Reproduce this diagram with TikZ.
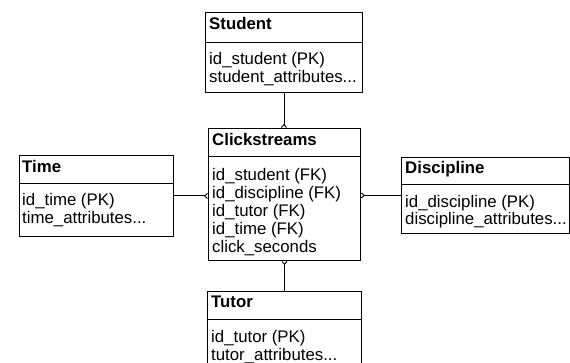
\documentclass[tikz,border=0pt]{standalone}
\usepackage{fontspec}
\setmainfont{Liberation Sans}
\usetikzlibrary{arrows.meta,calc}
\begin{document}
\begin{tikzpicture}[x=1pt,y=-1pt,
  tbl/.style={draw=black, fill=white, line width=0.9pt, inner sep=0pt, anchor=north west},
  hdr/.style={line width=0.9pt},
  ttl/.style={anchor=base west, inner sep=0pt, font=\fontsize{16.8}{18}\selectfont\bfseries},
  att/.style={anchor=base west, inner sep=0pt, font=\fontsize{16.8}{18}\selectfont},
  rel/.style={line width=0.9pt, -{Straight Barb[reversed,length=3pt,width=5pt]}}]
\clip (0,0) rectangle (570,363);
\fill[white] (0,0) rectangle (570,363);
% Student
\node[tbl, minimum width=157pt, minimum height=80pt] (student) at (205,12) {};
\draw[hdr] ($(student.north west)+(0,30)$) -- ($(student.north east)+(0,30)$);
\node[ttl] (studentT) at (209,30) {Student};
\node[att] (studentA1) at (209,65) {id\_student (PK)};
\node[att] (studentA2) at (209,83) {student\_attributes...};
% Clickstreams
\node[tbl, minimum width=152pt, minimum height=132pt] (cs) at (208,128) {};
\draw[hdr] ($(cs.north west)+(0,28)$) -- ($(cs.north east)+(0,28)$);
\node[ttl] (csT) at (212,146) {Clickstreams};
\node[att] (csA1) at (212,181) {id\_student (FK)};
\node[att] (csA2) at (212,199) {id\_discipline (FK)};
\node[att] (csA3) at (212,217) {id\_tutor (FK)};
\node[att] (csA4) at (212,235) {id\_time (FK)};
\node[att] (csA5) at (212,253) {click\_seconds};
% Time
\node[tbl, minimum width=154pt, minimum height=81pt] (time) at (19,155) {};
\draw[hdr] ($(time.north west)+(0,28)$) -- ($(time.north east)+(0,28)$);
\node[ttl] (timeT) at (22,173) {Time};
\node[att] (timeA1) at (22,206) {id\_time (PK)};
\node[att] (timeA2) at (22,224) {time\_attributes...};
% Discipline
\node[tbl, minimum width=168pt, minimum height=76pt] (dis) at (401,157) {};
\draw[hdr] ($(dis.north west)+(0,27)$) -- ($(dis.north east)+(0,27)$);
\node[ttl] (disT) at (405,174) {Discipline};
\node[att] (disA1) at (405,208) {id\_discipline (PK)};
\node[att] (disA2) at (405,225) {discipline\_attributes...};
% Tutor
\node[tbl, minimum width=154pt, minimum height=90pt] (tutor) at (207,291) {};
\draw[hdr] ($(tutor.north west)+(0,28)$) -- ($(tutor.north east)+(0,28)$);
\node[ttl] (tutorT) at (211,308) {Tutor};
\node[att] (tutorA1) at (211,342) {id\_tutor (PK)};
\node[att] (tutorA2) at (211,360) {tutor\_attributes...};
% Relationships
\draw[rel] (student.south) -- (student.south |- cs.north);
\draw[rel] (time.east) -- (time.east -| cs.west);
\draw[rel] (dis.west) -- (dis.west -| cs.east);
\draw[rel] (tutor.north) -- (tutor.north |- cs.south);
\end{tikzpicture}
\end{document}
